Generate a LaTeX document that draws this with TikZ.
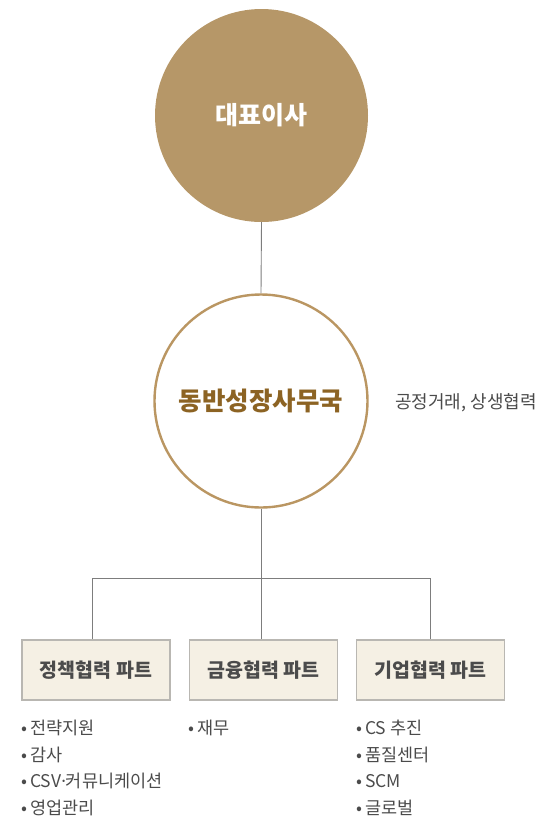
\documentclass[tikz,border=0pt]{standalone}
\usepackage{fontspec}
\setmainfont{Noto Sans CJK KR}
\newfontfamily\dotfont{Noto Sans}
\usetikzlibrary{positioning}
\definecolor{ceogold}{RGB}{182,151,104}
\definecolor{ringgold}{RGB}{186,150,98}
\definecolor{officebrown}{RGB}{140,99,35}
\definecolor{linegray}{RGB}{125,125,125}
\definecolor{boxfill}{RGB}{245,240,228}
\definecolor{boxline}{RGB}{185,183,178}
\definecolor{txtgray}{RGB}{75,75,75}

\tikzset{
  ceo/.style={circle, fill=ceogold, minimum size=213pt, inner sep=0pt,
    text=white, font=\fontsize{25}{29}\selectfont\bfseries},
  office/.style={circle, draw=ringgold, line width=2.4pt, minimum size=213pt,
    inner sep=0pt, text=officebrown, font=\fontsize{25.5}{29}\selectfont\bfseries},
  partbox/.style={draw=boxline, line width=1.2pt, fill=boxfill, minimum width=148pt,
    minimum height=60pt, inner sep=0pt, text=txtgray, font=\fontsize{19.5}{22}\selectfont\bfseries},
  link/.style={linegray, line width=0.9pt},
  duty/.style={anchor=west, inner sep=0pt, text=txtgray, font=\fontsize{17.5}{20}\selectfont}
}

\begin{document}
\begin{tikzpicture}[x=1pt, y=-1pt]
  \useasboundingbox (0,0) rectangle (541,820);
  % top of the chart
  \node[ceo] (ceo) at (261.5,115.5) {대표이사};
  \node[office] (office) at (261,401) {동반성장사무국};
  \node[anchor=west, inner sep=0pt, text=txtgray, font=\fontsize{18}{21}\selectfont]
    (role) at (395,403) {공정거래, 상생협력};
  % parts
  \node[partbox] (policy) at (96,670) {정책협력 파트};
  \node[partbox] (finance) at (263.5,670) {금융협력 파트};
  \node[partbox] (biz) at (430.5,670) {기업협력 파트};
  % links
  \coordinate (hub) at (261,578);
  \coordinate (hubL) at (92,578);
  \coordinate (hubR) at (430,578);
  \draw[link] (ceo.south) -- (office.north);
  \draw[link] (office.south) -- (hub);
  \draw[link] (hubL) -- (hubR);
  \draw[link] (hubL) -- (hubL |- policy.north);
  \draw[link] (hub) -- (hub |- finance.north);
  \draw[link] (hubR) -- (hubR |- biz.north);
  % duties
  \foreach \txt [count=\i] in {전략지원, 감사, {CSV{\dotfont ·}커뮤니케이션}, 영업관리}
    \node[duty] (policy\i) at (21,701.5+26.5*\i) {•\,\txt};
  \node[duty] (finance1) at (188,728) {•\,재무};
  \foreach \txt [count=\i] in {CS 추진, 품질센터, SCM, 글로벌}
    \node[duty] (biz\i) at (356,701.5+26.5*\i) {•\,\txt};
\end{tikzpicture}
\end{document}
